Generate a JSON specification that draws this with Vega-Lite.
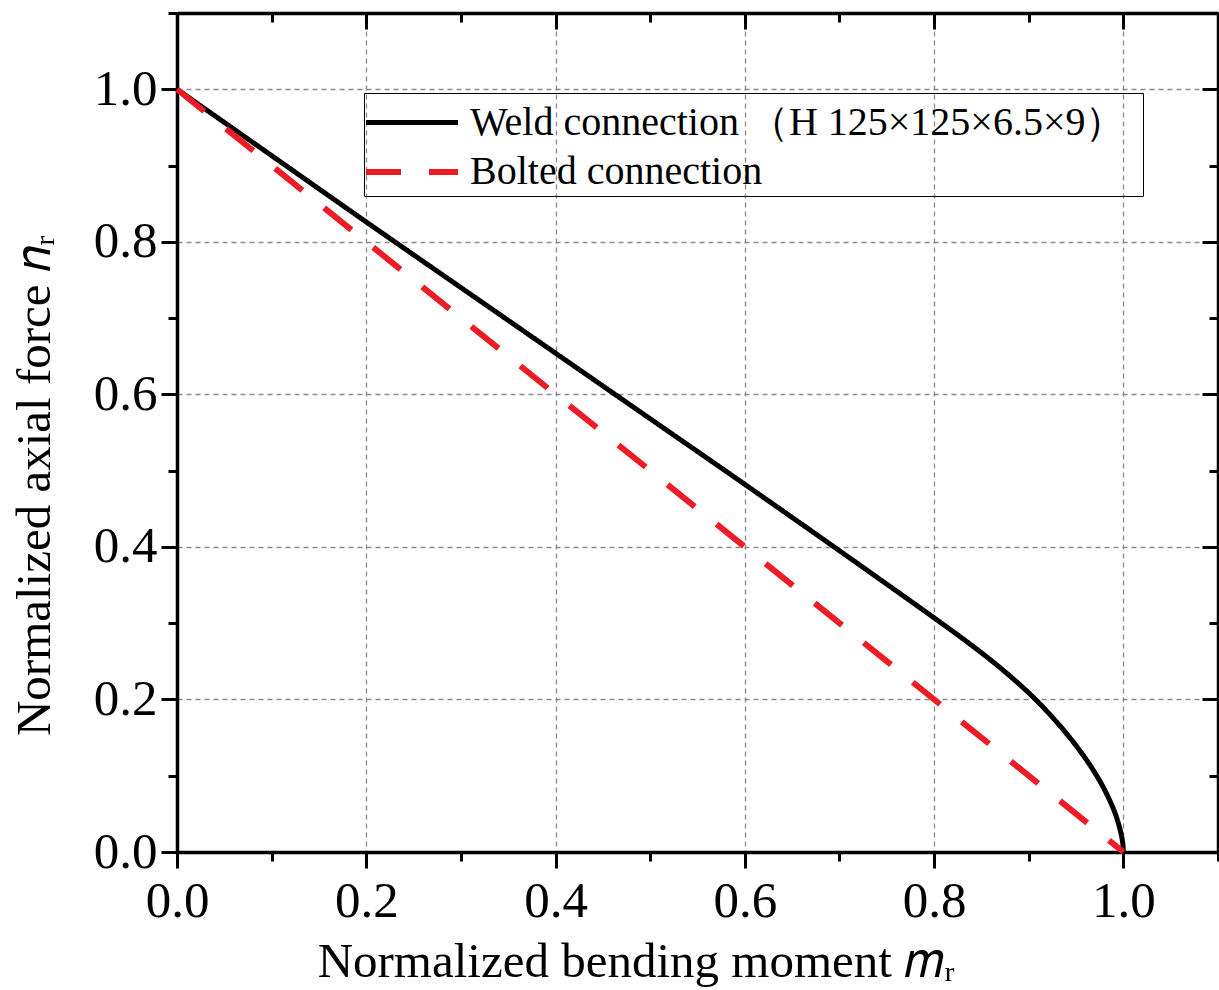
{
  "$schema": "https://vega.github.io/schema/vega-lite/v6.json",
  "autosize": "none",
  "width": 1041,
  "height": 839,
  "padding": {"left": 177, "top": 13, "right": 1, "bottom": 138},
  "background": "white",
  "config": {
    "view": {"stroke": null},
    "axis": {
      "labelFont": "Liberation Serif",
      "titleFont": "Liberation Serif",
      "labelFontSize": 51,
      "titleFontSize": 49,
      "titleFontWeight": "normal",
      "labelColor": "black",
      "titleColor": "black",
      "domainColor": "black",
      "domainWidth": 3.5,
      "tickColor": "black",
      "tickWidth": 3,
      "gridColor": "#8a8a8a",
      "gridDash": [5, 4],
      "gridWidth": 1.3
    }
  },
  "data": {
    "values": [
      {"series": "Weld", "m": 0.0, "n": 1.0},
      {"series": "Weld", "m": 0.1, "n": 0.913},
      {"series": "Weld", "m": 0.2, "n": 0.826},
      {"series": "Weld", "m": 0.3, "n": 0.74},
      {"series": "Weld", "m": 0.4, "n": 0.654},
      {"series": "Weld", "m": 0.5, "n": 0.568},
      {"series": "Weld", "m": 0.6, "n": 0.482},
      {"series": "Weld", "m": 0.7, "n": 0.395},
      {"series": "Weld", "m": 0.8, "n": 0.307},
      {"series": "Weld", "m": 0.83, "n": 0.28},
      {"series": "Weld", "m": 0.86, "n": 0.2515},
      {"series": "Weld", "m": 0.885, "n": 0.2255},
      {"series": "Weld", "m": 0.9072, "n": 0.2},
      {"series": "Weld", "m": 0.9298, "n": 0.17},
      {"series": "Weld", "m": 0.9497, "n": 0.14},
      {"series": "Weld", "m": 0.9668, "n": 0.11},
      {"series": "Weld", "m": 0.9808, "n": 0.08},
      {"series": "Weld", "m": 0.9915, "n": 0.05},
      {"series": "Weld", "m": 0.9974, "n": 0.025},
      {"series": "Weld", "m": 0.9995, "n": 0.01},
      {"series": "Weld", "m": 1.0, "n": 0.0},
      {"series": "Bolted", "m": 0.0, "n": 1.0},
      {"series": "Bolted", "m": 1.0, "n": 0.0}
    ]
  },
  "resolve": {"axis": {"x": "independent", "y": "independent"}},
  "layer": [
    {
      "mark": {"type": "line", "interpolate": "catmull-rom"},
      "encoding": {
        "x": {
          "field": "m", "type": "quantitative",
          "scale": {"domain": [0, 1.1], "nice": false, "zero": false},
          "axis": {
            "orient": "bottom",
            "grid": true,
            "title": "Normalized bending moment 𝑚ᵣ",
            "titleX": 459,
            "titleAlign": "center",
            "values": [0, 0.1, 0.2, 0.3, 0.4, 0.5, 0.6, 0.7, 0.8, 0.9, 1.0, 1.1],
            "labelExpr": "round(datum.value*10) % 2 == 0 && datum.value < 1.05 ? format(datum.value, '.1f') : ''",
            "tickSize": {"condition": {"test": "round(datum.value*10) % 2 == 0", "value": 16}, "value": 9},
            "gridOpacity": {"condition": {"test": "round(datum.value*10) % 2 == 0 && datum.value > 0.05 && datum.value < 1.05", "value": 1}, "value": 0},
            "labelPadding": 8,
            "titlePadding": 11,
            "labelFlush": false,
            "labelOverlap": false
          }
        },
        "y": {
          "field": "n", "type": "quantitative",
          "scale": {"domain": [0, 1.1], "nice": false, "zero": false},
          "axis": {
            "orient": "left",
            "grid": true,
            "title": "Normalized axial force 𝑛ᵣ",
            "titleY": 472,
            "titleAlign": "center",
            "values": [0, 0.1, 0.2, 0.3, 0.4, 0.5, 0.6, 0.7, 0.8, 0.9, 1.0, 1.1],
            "labelExpr": "round(datum.value*10) % 2 == 0 && datum.value < 1.05 ? format(datum.value, '.1f') : ''",
            "tickSize": {"condition": {"test": "round(datum.value*10) % 2 == 0", "value": 16}, "value": 9},
            "gridOpacity": {"condition": {"test": "round(datum.value*10) % 2 == 0 && datum.value > 0.05 && datum.value < 1.05", "value": 1}, "value": 0},
            "labelPadding": 4,
            "titlePadding": 34,
            "labelFlush": false,
            "labelOverlap": false
          }
        },
        "color": {
          "field": "series", "type": "nominal",
          "scale": {"domain": ["Weld", "Bolted"], "range": ["black", "#ed1c24"]},
          "legend": {
            "title": null,
            "orient": "none",
            "legendX": 187,
            "legendY": 80,
            "labelExpr": "datum.value == 'Weld' ? 'Weld connection （H 125×125×6.5×9）\u00a0\u200a\u200b' : 'Bolted connection'",
            "symbolType": "M-2,0H2",
            "symbolSize": 2116,
            "symbolOffset": 18,
            "labelFont": "Liberation Serif",
            "labelFontSize": 40,
            "labelColor": "black",
            "labelOffset": 32,
            "labelLimit": 0,
            "strokeColor": "black",
            "padding": 4,
            "rowPadding": 3
          }
        },
        "strokeDash": {
          "field": "series", "type": "nominal",
          "scale": {"domain": ["Weld", "Bolted"], "range": [[1, 0], [35, 28]]},
          "legend": null
        },
        "strokeWidth": {
          "field": "series", "type": "nominal",
          "scale": {"domain": ["Weld", "Bolted"], "range": [5, 6]},
          "legend": null
        }
      }
    },
    {
      "mark": {"type": "line", "opacity": 0},
      "encoding": {
        "x": {
          "field": "m", "type": "quantitative",
          "scale": {"domain": [0, 1.1], "nice": false, "zero": false},
          "axis": {
            "orient": "top", "title": null, "labels": false, "grid": false,
            "values": [0, 0.1, 0.2, 0.3, 0.4, 0.5, 0.6, 0.7, 0.8, 0.9, 1.0, 1.1],
            "tickSize": {"condition": {"test": "round(datum.value*10) % 2 == 0", "value": -16}, "value": -9}
          }
        },
        "y": {
          "field": "n", "type": "quantitative",
          "scale": {"domain": [0, 1.1], "nice": false, "zero": false},
          "axis": {
            "orient": "right", "title": null, "labels": false, "grid": false,
            "values": [0, 0.1, 0.2, 0.3, 0.4, 0.5, 0.6, 0.7, 0.8, 0.9, 1.0, 1.1],
            "tickSize": {"condition": {"test": "round(datum.value*10) % 2 == 0", "value": -16}, "value": -9}
          }
        },
        "detail": {"field": "series"}
      }
    }
  ]
}
